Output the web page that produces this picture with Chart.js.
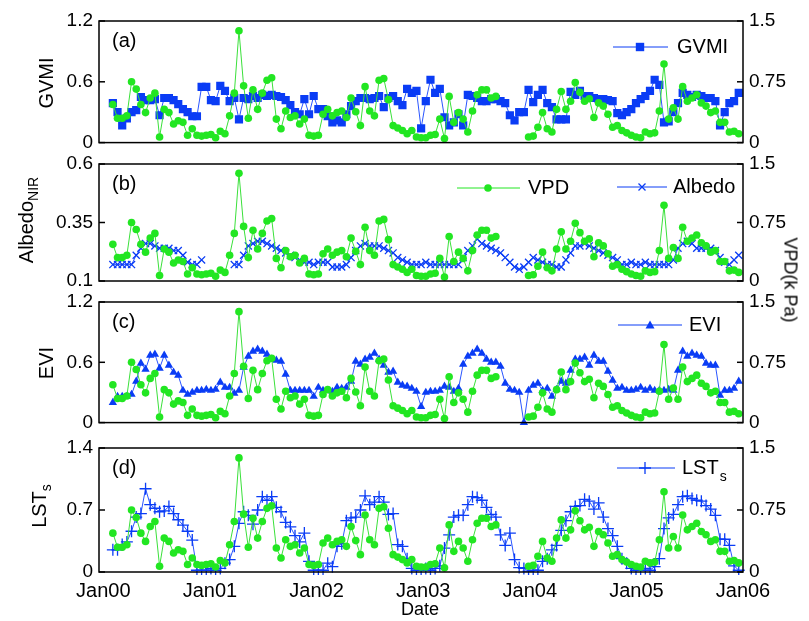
<!DOCTYPE html>
<html>
<head>
<meta charset="utf-8">
<script src="https://cdn.jsdelivr.net/npm/chart.js@4.4.0/dist/chart.umd.min.js"></script>
<style>
  body { margin: 0; background: #fff; }
  #wrap { position: relative; width: 809px; height: 621px; font-family: "Liberation Sans", Arial, sans-serif; }
  canvas { position: absolute; left: 0; }
  .lbl { position: absolute; font-size: 20px; color: #000; white-space: nowrap; transform: translate(-50%, -50%); }
  .up { transform: translate(-50%, -50%) rotate(-90deg); }
  .down { transform: translate(-50%, -50%) rotate(90deg); }
  sub { font-size: 14px; }
</style>
</head>
<body>
<div id="wrap">
  <canvas id="cA" width="809" height="160" style="top:0px"></canvas>
  <canvas id="cB" width="809" height="160" style="top:140px"></canvas>
  <canvas id="cC" width="809" height="160" style="top:280px"></canvas>
  <canvas id="cD" width="809" height="196" style="top:425px"></canvas>

  <div class="lbl up" style="left:46px; top:83px">GVMI</div>
  <div class="lbl up" style="left:28px; top:220px">Albedo<sub>NIR</sub></div>
  <div class="lbl up" style="left:46px; top:363px">EVI</div>
  <div class="lbl up" style="left:41px; top:506px">LST<sub>s</sub></div>
  <div class="lbl down" style="left:790px; top:280px; font-size:18px">VPD(k Pa)</div>
  <div class="lbl" style="left:420px; top:609px; font-size:18px">Date</div>
</div>

<script>
// pas de temps des composites (années depuis Jan00)
const tStart = 0.09;
const tStep = 16 / 365.25;

const xTickYears = [0, 1, 2, 3, 4, 5, 6];
const xTickLabels = ["Jan00", "Jan01", "Jan02", "Jan03", "Jan04", "Jan05", "Jan06"];

const vpdTicks = [0, 0.75, 1.5];
const gvmiTicks = [0, 0.6, 1.2];
const albedoTicks = [0.1, 0.35, 0.6];
const eviTicks = [0, 0.6, 1.2];
const lstTicks = [0, 0.7, 1.4];

// VPD (k Pa) - même série dans les 4 panneaux
const vpd = [
  0.47, 0.30, 0.30, 0.33, 0.75, 0.66, 0.47, 0.37, 0.55, 0.61,
  0.07, 0.41, 0.37, 0.23, 0.27, 0.25, 0.09, 0.17, 0.09, 0.08,
  0.09, 0.10, 0.06, 0.14, 0.11, 0.33, 0.61, 1.38, 0.70, 0.30,
  0.65, 0.41, 0.61, 0.77, 0.80, 0.29, 0.17, 0.39, 0.31, 0.33,
  0.23, 0.29, 0.09, 0.08, 0.09, 0.35, 0.41, 0.33, 0.37, 0.39,
  0.31, 0.55, 0.38, 0.21, 0.69, 0.39, 0.33, 0.77, 0.79, 0.53,
  0.21, 0.18, 0.15, 0.11, 0.15, 0.07, 0.06, 0.06, 0.09, 0.10,
  0.29, 0.05, 0.57, 0.25, 0.37, 0.29, 0.13, 0.39, 0.59, 0.65,
  0.65, 0.55, 0.57, null, null, null, null, null, null, 0.07,
  0.08, 0.19, 0.37, 0.17, 0.13, 0.41, 0.63, 0.41, 0.51, 0.74,
  0.62, 0.51, 0.54, 0.31, 0.49, 0.45, 0.35, 0.19, 0.21, 0.15,
  0.12, 0.09, 0.07, 0.06, 0.13, 0.11, 0.12, 0.39, 0.97, 0.29,
  0.43, 0.29, 0.69, 0.51, 0.55, 0.59, 0.49, 0.45, 0.37, 0.39,
  0.25, 0.25, 0.13, 0.14, 0.11
];

const gvmi = [
  0.39, 0.30, 0.17, 0.24, 0.30, 0.32, 0.45, 0.42, 0.42, 0.43,
  0.27, 0.44, 0.44, 0.42, 0.38, 0.33, 0.30, 0.26, 0.26, 0.55,
  0.55, 0.42, 0.41, 0.56, 0.51, 0.41, 0.44, 0.23, 0.44, 0.43,
  0.46, 0.44, 0.47, 0.46, 0.47, 0.46, 0.45, 0.42, 0.37, 0.30,
  0.28, 0.43, 0.28, 0.46, 0.33, 0.33, 0.26, 0.20, 0.22, 0.20,
  0.28, 0.36, 0.41, 0.44, 0.44, 0.43, 0.44, 0.46, 0.35, 0.44,
  0.46, 0.41, 0.37, 0.53, 0.49, 0.51, 0.14, 0.41, 0.62, 0.49,
  0.53, 0.25, 0.17, 0.20, 0.28, 0.17, 0.47, 0.46, 0.44, 0.41,
  0.41, 0.43, 0.43, 0.41, 0.39, 0.27, 0.22, 0.30, 0.30, 0.52,
  0.40, 0.47, 0.52, 0.39, 0.35, 0.23, 0.23, 0.23, 0.50, 0.47,
  0.51, 0.46, 0.46, 0.44, 0.43, 0.43, 0.42, 0.41, 0.29, 0.27,
  0.30, 0.33, 0.39, 0.43, 0.46, 0.51, 0.62, 0.57, 0.20, 0.21,
  0.30, 0.39, 0.49, 0.47, 0.45, 0.47, 0.46, 0.44, 0.44, 0.41,
  0.17, 0.30, 0.39, 0.41, 0.49
];

const albedo = [
  0.17, 0.17, 0.17, 0.17, 0.17, 0.21, 0.24, 0.26, 0.26, 0.25,
  0.24, 0.24, 0.24, 0.23, 0.23, 0.21, 0.18, 0.17, 0.17, 0.19,
  null, null, null, null, null, null, 0.17, 0.17, 0.21, 0.25,
  0.26, 0.27, 0.27, 0.26, 0.25, 0.24, 0.23, 0.22, 0.21, 0.20,
  0.19, 0.18, 0.18, 0.17, 0.18, 0.18, 0.18, 0.16, 0.16, 0.16,
  0.17, 0.20, 0.23, 0.25, 0.26, 0.25, 0.25, 0.25, 0.24, 0.23,
  0.22, 0.20, 0.19, 0.18, 0.17, 0.17, 0.17, 0.18, 0.17, 0.17,
  0.17, 0.17, 0.17, 0.17, 0.17, 0.20, 0.23, 0.25, 0.28, 0.26,
  0.25, 0.24, 0.23, 0.22, 0.20, 0.18, 0.16, 0.15, 0.16, 0.18,
  0.20, 0.19, 0.18, 0.17, 0.17, 0.16, 0.16, 0.19, 0.22, 0.25,
  0.25, 0.26, 0.25, 0.24, 0.23, 0.22, 0.21, 0.20, 0.19, 0.17,
  0.17, 0.18, 0.17, 0.17, 0.18, 0.17, 0.17, 0.17, 0.17, 0.17,
  0.19, 0.24, 0.26, 0.27, 0.26, 0.24, 0.24, 0.24, 0.24, 0.23,
  0.20, 0.18, 0.17, 0.19, 0.21
];

const evi = [
  0.20, 0.26, 0.26, 0.26, 0.28, 0.41, 0.59, 0.53, 0.67, 0.68,
  0.54, 0.67, 0.57, 0.50, 0.47, 0.32, 0.28, 0.30, 0.32, 0.32,
  0.33, 0.32, 0.33, 0.40, 0.35, 0.35, 0.29, 0.32, 0.55, 0.66,
  0.71, 0.73, 0.71, 0.68, 0.63, 0.62, 0.61, 0.48, 0.32, 0.32,
  0.32, 0.32, 0.32, 0.26, 0.35, 0.32, 0.32, 0.31, 0.35, 0.34,
  0.35, 0.41, 0.61, 0.58, 0.63, 0.65, 0.69, 0.63, 0.57, 0.50,
  0.51, 0.40, 0.37, 0.36, 0.34, 0.31, 0.16, 0.30, 0.31, 0.31,
  0.32, 0.36, 0.35, 0.31, 0.34, 0.58, 0.66, 0.69, 0.73, 0.69,
  0.63, 0.60, 0.60, 0.56, 0.39, 0.33, 0.32, 0.30, 0.00, 0.32,
  0.37, 0.39, 0.32, 0.34, 0.26, 0.33, 0.41, 0.39, 0.52, 0.63,
  0.63, 0.65, 0.57, 0.67, 0.61, 0.61, 0.51, 0.42, 0.34, 0.35,
  0.32, 0.32, 0.33, 0.35, 0.32, 0.34, 0.32, 0.32, 0.32, 0.33,
  0.32, 0.52, 0.71, 0.66, 0.69, 0.67, 0.66, 0.59, 0.57, 0.57,
  0.27, 0.32, 0.32, 0.34, 0.41
];

const lst = [
  0.25, 0.25, 0.31, 0.34, 0.46, 0.62, 0.66, 0.94, 0.76, 0.72,
  0.68, 0.69, 0.74, 0.66, 0.59, 0.53, 0.46, 0.36, 0.02, 0.02,
  0.02, 0.04, 0.02, 0.04, 0.10, 0.14, 0.29, 0.55, 0.68, 0.64,
  0.54, 0.70, 0.85, 0.81, 0.85, 0.73, 0.68, 0.56, 0.51, 0.41,
  0.34, 0.44, 0.12, 0.02, 0.02, 0.02, 0.10, 0.06, 0.29, 0.32,
  0.58, 0.61, 0.62, 0.70, 0.86, 0.76, 0.79, 0.85, 0.79, 0.65,
  0.66, 0.31, 0.29, 0.15, 0.04, 0.02, 0.02, 0.04, 0.02, 0.04,
  0.07, 0.27, 0.42, 0.62, 0.64, 0.64, 0.76, 0.85, 0.84, 0.81,
  0.73, 0.65, 0.62, 0.42, 0.30, 0.44, 0.14, 0.05, 0.04, 0.01,
  0.02, 0.02, 0.12, 0.15, 0.25, 0.30, 0.47, 0.58, 0.68, 0.74,
  0.75, 0.82, 0.80, 0.71, 0.78, 0.62, 0.49, 0.41, 0.29, 0.15,
  0.10, 0.04, 0.02, 0.02, 0.04, 0.02, 0.06, 0.15, 0.49, 0.61,
  0.65, 0.76, 0.85, 0.86, 0.83, 0.81, 0.80, 0.75, 0.71, 0.64,
  0.37, 0.37, 0.30, 0.07, 0.02
];

const GREEN = "#22e622";
const GREEN_LINE = "#3ae03a";
const BLUE = "#0a3cf5";
const BLUE_LINE = "#2a55ff";
const FONT = '"Liberation Sans", Arial, sans-serif';

function pts(arr) {
  return arr.map((v, i) => ({ x: tStart + i * tStep, y: v }));
}

// petit marqueur pour la légende
function drawMarker(ctx, style, x, y, r, color) {
  ctx.fillStyle = color;
  ctx.strokeStyle = color;
  ctx.lineWidth = 1.3;
  ctx.beginPath();
  if (style === "circle") {
    ctx.arc(x, y, r, 0, Math.PI * 2);
    ctx.fill();
  } else if (style === "rect") {
    ctx.fillRect(x - r, y - r, 2 * r, 2 * r);
  } else if (style === "triangle") {
    ctx.moveTo(x, y - r);
    ctx.lineTo(x + r, y + r * 0.75);
    ctx.lineTo(x - r, y + r * 0.75);
    ctx.closePath();
    ctx.fill();
  } else if (style === "crossRot") {
    ctx.moveTo(x - r, y - r); ctx.lineTo(x + r, y + r);
    ctx.moveTo(x + r, y - r); ctx.lineTo(x - r, y + r);
    ctx.stroke();
  } else if (style === "cross") {
    ctx.moveTo(x - r, y); ctx.lineTo(x + r, y);
    ctx.moveTo(x, y - r); ctx.lineTo(x, y + r);
    ctx.stroke();
  }
}

const decoPlugin = {
  id: "panelDeco",
  afterDatasetsDraw(chart, args, o) {
    const ctx = chart.ctx;
    const a = chart.chartArea;
    ctx.save();
    ctx.strokeStyle = "#000";
    ctx.lineWidth = 1.5;
    ctx.strokeRect(a.left, a.top, a.width, a.height);

    // graduations vers l'intérieur
    ["yL", "yR"].forEach(id => {
      const s = chart.scales[id];
      s.ticks.forEach(t => {
        const y = s.getPixelForValue(t.value);
        ctx.beginPath();
        if (id === "yL") { ctx.moveTo(a.left, y); ctx.lineTo(a.left + 6, y); }
        else { ctx.moveTo(a.right, y); ctx.lineTo(a.right - 6, y); }
        ctx.stroke();
      });
    });

    // lettre du panneau
    ctx.fillStyle = "#000";
    ctx.font = "20px " + FONT;
    ctx.textBaseline = "middle";
    ctx.textAlign = "left";
    ctx.fillText(o.label, a.left + 13, a.top + 20);

    // légendes
    o.legend.forEach(it => {
      const y = it.y - o.top;
      ctx.strokeStyle = it.color;
      ctx.lineWidth = 1;
      ctx.beginPath();
      ctx.moveTo(it.x1, y);
      ctx.lineTo(it.x2, y);
      ctx.stroke();
      drawMarker(ctx, it.style, it.mx, y, it.r, it.color);
      ctx.fillStyle = "#000";
      ctx.font = "20px " + FONT;
      ctx.fillText(it.text, it.tx, y);
      if (it.sub) {
        const w = ctx.measureText(it.text).width;
        ctx.font = "14px " + FONT;
        ctx.fillText(it.sub, it.tx + w + 1, y + 9);
      }
    });
    ctx.restore();
  }
};

function yAxis(pos, ticks, width) {
  return {
    position: pos,
    min: ticks[0],
    max: ticks[ticks.length - 1],
    afterBuildTicks: ax => { ax.ticks = ticks.map(v => ({ value: v })); },
    afterFit: s => { s.width = width; },
    grid: { display: false, drawTicks: false },
    border: { display: false },
    ticks: {
      color: "#000",
      font: { family: FONT, size: 19 },
      padding: 6,
      callback: v => String(v)
    }
  };
}

function makePanel(id, p) {
  const isCross = p.style === "cross" || p.style === "crossRot";
  new Chart(document.getElementById(id), {
    type: "line",
    data: {
      datasets: [
        {
          data: pts(vpd),
          yAxisID: "yR",
          borderColor: GREEN_LINE,
          borderWidth: 1,
          pointStyle: "circle",
          pointRadius: 3.8,
          pointBackgroundColor: GREEN,
          pointBorderColor: GREEN,
          pointBorderWidth: 0,
          spanGaps: false,
          clip: 3
        },
        {
          data: pts(p.series),
          yAxisID: "yL",
          borderColor: BLUE_LINE,
          borderWidth: 1,
          pointStyle: p.style,
          pointRadius: p.r,
          pointBackgroundColor: BLUE,
          pointBorderColor: BLUE,
          pointBorderWidth: isCross ? 1.3 : 0,
          spanGaps: false,
          clip: 3
        }
      ]
    },
    options: {
      responsive: false,
      animation: false,
      events: [],
      layout: { padding: { top: p.padTop, bottom: p.padBottom, left: 0, right: 0 } },
      plugins: {
        legend: { display: false },
        tooltip: { enabled: false },
        panelDeco: { label: p.label, legend: p.legend, top: p.top }
      },
      scales: {
        x: {
          type: "linear",
          min: -0.04,
          max: 6.0,
          display: p.showX,
          afterBuildTicks: ax => { ax.ticks = xTickYears.map(v => ({ value: v })); },
          afterFit: s => { s.height = p.showX ? 49 : 0; },
          grid: { display: false, drawTicks: false },
          border: { display: false },
          ticks: {
            color: "#000",
            font: { family: FONT, size: 20 },
            padding: 7,
            maxRotation: 0,
            callback: v => xTickLabels[xTickYears.indexOf(v)]
          }
        },
        yL: yAxis("left", p.ticks, 99),
        yR: yAxis("right", vpdTicks, 66)
      }
    },
    plugins: [decoPlugin]
  });
}

makePanel("cA", {
  series: gvmi, ticks: gvmiTicks, style: "rect", r: 5.8, label: "(a)",
  top: 0, padTop: 21, padBottom: 14, showX: false,
  legend: [{ x1: 613, x2: 668, mx: 640, y: 47, r: 4.2, style: "rect", color: BLUE, text: "GVMI", tx: 677 }]
});

makePanel("cB", {
  series: albedo, ticks: albedoTicks, style: "crossRot", r: 5, label: "(b)",
  top: 140, padTop: 24, padBottom: 19, showX: false,
  legend: [
    { x1: 457, x2: 520, mx: 488, y: 188, r: 3.8, style: "circle", color: GREEN, text: "VPD", tx: 528 },
    { x1: 617, x2: 667, mx: 642, y: 187, r: 3.5, style: "crossRot", color: BLUE, text: "Albedo", tx: 673 }
  ]
});

makePanel("cC", {
  series: evi, ticks: eviTicks, style: "triangle", r: 4.8, label: "(c)",
  top: 280, padTop: 22, padBottom: 15, showX: false,
  legend: [{ x1: 618, x2: 682, mx: 650, y: 325, r: 4.5, style: "triangle", color: BLUE, text: "EVI", tx: 689 }]
});

makePanel("cD", {
  series: lst, ticks: lstTicks, style: "cross", r: 6, label: "(d)",
  top: 425, padTop: 23, padBottom: 0, showX: true,
  legend: [{ x1: 617, x2: 675, mx: 645, y: 468, r: 6, style: "cross", color: BLUE, text: "LST", tx: 682, sub: "s" }]
});
</script>
</body>
</html>
